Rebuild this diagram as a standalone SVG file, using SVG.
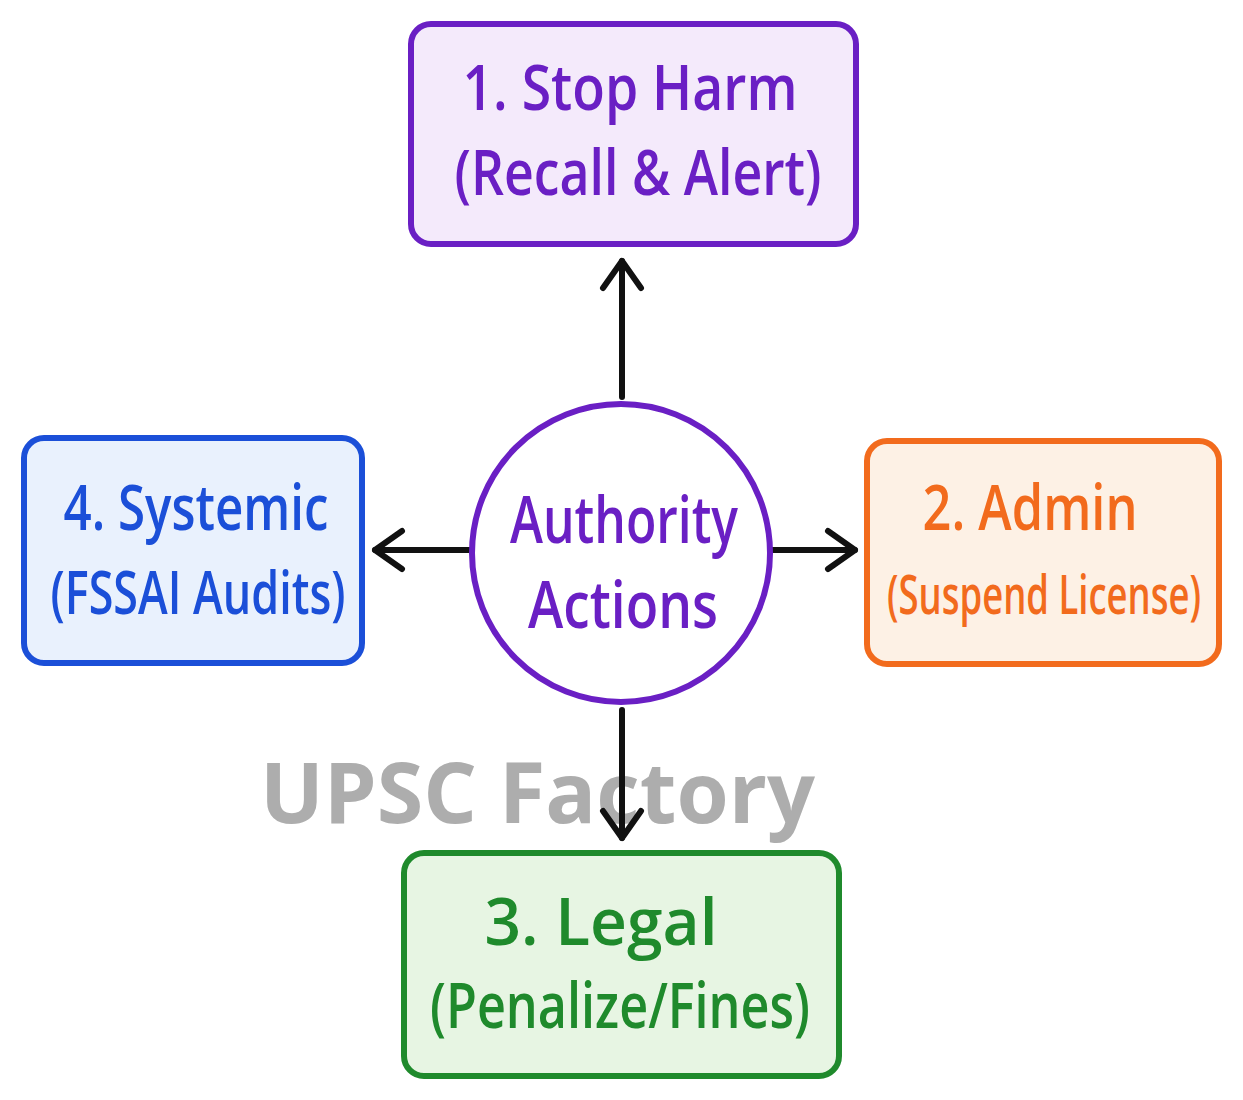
<svg xmlns="http://www.w3.org/2000/svg" width="1243" height="1100" viewBox="0 0 1243 1100">
<style>
.lbl{font-family:"Open Sans","Noto Sans",sans-serif;font-weight:600;text-anchor:middle}
.box{stroke-width:6}
.conn{stroke:#111;stroke-width:6;fill:none;stroke-linecap:round;stroke-linejoin:round}
.wm{font-family:"Open Sans","Noto Sans",sans-serif;font-weight:700;fill:#adadad;font-size:84px}
</style>
<defs>
<marker id="chev" viewBox="-40 -30 50 60" refX="0" refY="0" markerWidth="50" markerHeight="60" markerUnits="userSpaceOnUse" orient="auto" overflow="visible">
<path d="M-27,-19 L0,0 L-27,19" fill="none" stroke="#111" stroke-width="6" stroke-linecap="round" stroke-linejoin="round"/>
</marker>
</defs>
<rect width="1243" height="1100" fill="#ffffff"/>
<text class="wm" x="260" y="823" textLength="555" lengthAdjust="spacingAndGlyphs">UPSC Factory</text>
<g id="connectors">
<path class="conn" d="M622,397 L622,261" marker-end="url(#chev)"/>
<path class="conn" d="M770,550 L855,550" marker-end="url(#chev)"/>
<path class="conn" d="M472,550 L375,550" marker-end="url(#chev)"/>
<path class="conn" d="M622,710 L622,838" marker-end="url(#chev)"/>
</g>
<g id="node-center">
<circle cx="621" cy="553" r="149" fill="#ffffff" stroke="#6a1fc4" stroke-width="6"/>
<text class="lbl" x="624" y="543" font-size="66" fill="#6a1fc4" textLength="228" lengthAdjust="spacingAndGlyphs">Authority</text>
<text class="lbl" x="623" y="628" font-size="66" fill="#6a1fc4" textLength="190" lengthAdjust="spacingAndGlyphs">Actions</text>
</g>
<g id="node-1">
<rect class="box" x="411" y="24" width="445" height="220" rx="20" fill="#f4eafb" stroke="#6a1fc4"/>
<text class="lbl" x="630" y="110" font-size="64" fill="#6a1fc4" textLength="335" lengthAdjust="spacingAndGlyphs">1. Stop Harm</text>
<text class="lbl" x="638" y="195" font-size="64" fill="#6a1fc4" textLength="367" lengthAdjust="spacingAndGlyphs">(Recall &amp; Alert)</text>
</g>
<g id="node-2">
<rect class="box" x="867" y="441" width="352" height="223" rx="20" fill="#fdf1e5" stroke="#f26b1d"/>
<text class="lbl" x="1030" y="530" font-size="64" fill="#f26b1d" textLength="215" lengthAdjust="spacingAndGlyphs">2. Admin</text>
<text class="lbl" x="1044" y="614" font-size="54" fill="#f26b1d" textLength="314" lengthAdjust="spacingAndGlyphs">(Suspend License)</text>
</g>
<g id="node-3">
<rect class="box" x="404" y="853" width="435" height="223" rx="20" fill="#e7f5e3" stroke="#1f8a2c"/>
<text class="lbl" x="601" y="945" font-size="66" fill="#1f8a2c" textLength="233" lengthAdjust="spacingAndGlyphs">3. Legal</text>
<text class="lbl" x="620" y="1028" font-size="64" fill="#1f8a2c" textLength="380" lengthAdjust="spacingAndGlyphs">(Penalize/Fines)</text>
</g>
<g id="node-4">
<rect class="box" x="24" y="438" width="338" height="225" rx="20" fill="#e9f1fd" stroke="#1b4fd8"/>
<text class="lbl" x="196" y="530" font-size="64" fill="#1b4fd8" textLength="265" lengthAdjust="spacingAndGlyphs">4. Systemic</text>
<text class="lbl" x="198" y="614" font-size="60" fill="#1b4fd8" textLength="295" lengthAdjust="spacingAndGlyphs">(FSSAI Audits)</text>
</g>
</svg>
